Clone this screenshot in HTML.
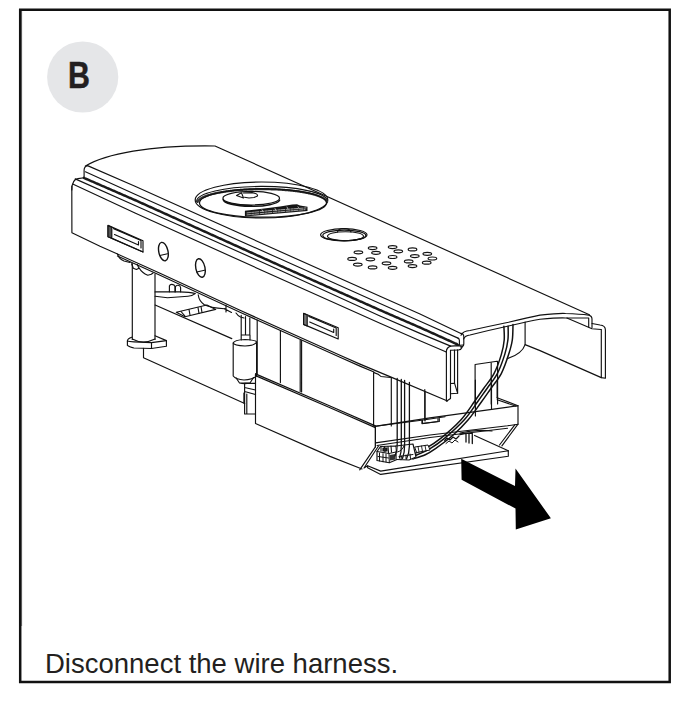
<!DOCTYPE html>
<html><head><meta charset="utf-8">
<style>
html,body{margin:0;padding:0;background:#fff;}
body{width:685px;height:702px;position:relative;overflow:hidden;font-family:"Liberation Sans",sans-serif;}
svg{position:absolute;left:0;top:0;}
.cap{position:absolute;left:45px;top:649px;font-size:27.5px;color:#231f20;white-space:nowrap;line-height:30px;}
.bl{position:absolute;left:0;top:0;font-weight:bold;font-size:36px;color:#231f20;}
</style></head><body>
<svg width="685" height="702" viewBox="0 0 685 702">
<!-- frame -->
<path d="M20.2,9.8 H669.7 V682.1 H20.2 Z" fill="none" stroke="#111" stroke-width="2.5"/>
<path d="M21.6,11 V626" stroke="#444" stroke-width="0.8"/>
<!-- B badge -->
<circle cx="82.7" cy="77" r="35.6" fill="#e5e6e8"/>
<g fill="none" stroke="#111" stroke-width="1.15" stroke-linejoin="round" stroke-linecap="round" id="ill">
<!-- cap back curve + back edge -->
<path d="M85.4,166.1 C105,154 150,145 215,146 L589.4,314.7"/>
<!-- cap left corner -->
<path d="M87.5,165.6 Q84.2,166.5 84.1,170 L84.1,177.4"/>
<!-- L1..L5 -->
<path d="M87.5,165.6 L135,186.2 L280,251.5 L380,296.3 L420,314 L460.9,333.4"/>
<path d="M85.4,171.8 L135,194.2 L280,258.8 L380,303.6 L420,321.3 L458,338.1"/>
<path d="M83.9,177.9 L135,200.1 L280,265.6 L380,310.1 L420,327.5 L457.2,344.3" stroke-width="2.5" stroke="#1a1a1a" stroke-dasharray="1.1 0.6"/>
<path d="M75.2,178.9 L135,205.5 L280,270.3 L380,316 L420,333.4 L450.7,346.1"/>
<path d="M72.7,184 L135,213.1 L280,278.5 L380,323.3 L420,340.7 L446.3,352"/>
<!-- front piece left corner and edge -->
<path d="M71.8,190 Q71.8,179.5 78,178.6 L84,177.8"/>
<path d="M71.8,186 L71.9,232.7 L100,246.2 L117.5,254.1 L160,273.3 L240,310.3 L340,355.3 L360,364.1 L390.5,376.9 L447.5,401"/>
<!-- right end of cap / front piece -->
<path d="M460.9,333.4 Q463.8,333.6 463.8,337 L463.8,344 Q463.6,346.8 461,347.3"/>
<path d="M458,338.1 Q459.4,338.6 459.4,340.5 L459.4,345.2 M457.2,344.3 L459.4,345.2 L463.5,345"/>
<path d="M446.3,352 Q446.4,347.3 450.7,346.1 L458.5,345.6 Q461.5,345.8 462,347.5 Q461,350 458.5,350 L450.5,350.3"/>
<!-- flap -->
<path d="M461,335.2 Q463,331 470,330.5 Q490,326 508.5,322.2 Q530,317 540,315.1 Q560,313 565.6,313.5 Q580,314 588.7,315.1 Q592,316 592,319 L592,327.6"/>
<path d="M463.6,339 Q465,335.5 470,335 Q490,330 508.5,326 Q530,321 540,319.2 Q560,317.5 565.6,318 L588.7,318 L588.7,327"/>
<path d="M566.9,318 L592,328.8 L601,329.5"/>
<path d="M592,323.5 L600,325 Q605.4,325.5 605.4,330 L605.4,378.2 L601.3,377.6 L601.3,329.5"/>
<path d="M601.3,377.6 L540,350.6 L525.1,344.6"/>
<path d="M525.1,322 L525.1,344.6 Q522,354 507.2,358.7"/>
<!-- wires right -->
<g stroke-width="1.5"><path d="M503.9,326.3 C503.9,328.6 504.6,335.3 504.2,340.0 C503.8,344.7 503.0,349.0 501.3,354.6 C499.6,360.2 496.9,368.0 494.0,373.6 C491.1,379.2 487.1,383.6 483.8,388.2 C480.6,392.8 478.3,396.2 474.5,401.5 C470.7,406.8 466.4,413.9 460.8,420.0 C455.2,426.1 446.6,433.6 440.7,438.4 C434.8,443.2 430.1,445.9 425.3,448.6 C420.5,451.3 414.2,453.5 412.0,454.5"/>
<path d="M508.1,326.3 C508.1,328.6 508.5,335.3 507.9,340.0 C507.4,344.7 506.4,349.0 504.7,354.6 C502.9,360.2 500.3,368.0 497.3,373.6 C494.4,379.2 490.4,383.6 487.2,388.2 C483.9,392.8 481.6,396.2 477.8,401.5 C474.0,406.8 469.7,413.9 464.1,420.0 C458.5,426.1 450.1,433.6 444.5,438.4 C438.8,443.2 435.4,445.5 430.1,448.6 C424.8,451.7 415.4,455.4 412.5,456.8"/>
<path d="M513.0,324.6 C512.9,327.2 513.0,335.0 512.3,340.0 C511.6,345.0 510.4,349.0 508.6,354.6 C506.8,360.2 504.2,368.0 501.3,373.6 C498.4,379.2 494.5,383.4 491.1,388.2 C487.7,393.0 484.9,397.2 481.0,402.5 C477.1,407.8 472.7,414.5 468.0,420.0 C463.3,425.5 458.3,430.5 452.9,435.3 C447.5,440.1 440.1,445.4 435.5,448.6 C430.9,451.8 429.1,453.0 425.3,454.7 C421.6,456.4 415.1,458.3 413.0,459.0"/></g>
<!-- front face slots & holes -->
<path d="M108,225.4 L143,240.7 L143,252 L108,236.7 Z"/>
<path d="M108,225.6 L111.8,227.2 L111.8,238.3 L108,236.7 Z" fill="#555"/>
<path d="M113.6,228.6 L141,240.5 L141,248 M114.5,234.5 L138.5,245 L138.5,241.5 M112.6,238.6 L143,252"/>
<path d="M303.6,313.3 L338.2,327.7 L338.2,339 L303.6,324.4 Z"/>
<path d="M303.6,313.5 L307.2,315 L307.2,326 L303.6,324.4 Z" fill="#777"/>
<path d="M308.8,316.4 L336.2,328 L336.2,335.5 M309.7,322 L333.7,332.5 L333.7,329"/>
<g stroke-width="1.4"><ellipse cx="163.4" cy="251.6" rx="4.6" ry="9.4" transform="rotate(-12 163.4 251.6)"/>
<ellipse cx="200.4" cy="268" rx="4.6" ry="9.4" transform="rotate(-12 200.4 268)"/></g>
<path d="M159.8,255.5 L167.5,253.8 M196.8,272 L204.5,270.2"/>
<!-- lens -->
<ellipse cx="261.5" cy="200" rx="66.3" ry="18" stroke-width="1.2"/>
<path d="M196.7,201.5 A65.3,14.8 0 0 1 327.3,201" stroke-width="1.2"/>
<path d="M197.6,202 A64.8,13.6 0 0 1 327,202" stroke="#333" stroke-width="2.2" stroke-dasharray="0.8 0.6"/>
<ellipse cx="263" cy="203" rx="63.5" ry="14.2" stroke-width="1.2"/>
<ellipse cx="251.2" cy="198.2" rx="28.3" ry="6.8" stroke-width="1.2"/>
<path d="M223.2,199.6 A28.3,6.9 0 0 0 279.6,200.2" stroke-width="1.5"/><path d="M224.5,201.5 Q235,205.5 252,205.5" stroke-width="1"/>
<path d="M236.5,195.5 L241.5,192.8 L243.5,198 Z M243.5,193 L252,192.6 Q258,193.5 257.5,196 L254,197.5 L249,198 L244.5,197.2" stroke-width="1.1"/>
<path d="M244.9,210.8 L262,208.8 L280,206.6 L292.3,204.6 L297,204.3 L300,205.5 L307.5,206.8 L307.5,210.9 L270,214.3 L244.9,216.6 Z" fill="#151515" stroke="none"/>
<path d="M247,212.9 L270,210.6 L306,207.9 M247,214.9 L270,212.7 L305,209.6" stroke="#fff" stroke-width="0.6" stroke-dasharray="3.5 1.2 2 1 4 1.5"/>
<path d="M262,209.8 L263,211.5 M275,208.5 L276,210.5 M287,207 L288,209 M298,206.8 L299,208.5" stroke="#fff" stroke-width="0.6"/>
<!-- button -->
<ellipse cx="343.8" cy="234.8" rx="23.2" ry="6.1" stroke-width="1.2"/>
<ellipse cx="344.3" cy="235.4" rx="21.5" ry="5.3"/>
<ellipse cx="345.5" cy="236.2" rx="18" ry="4.5"/>
<path d="M337.5,232 Q338,228.7 344,228.5 Q350,228.7 351,232"/>
<!-- speaker -->
<g stroke="#151515" stroke-width="1.2"><ellipse cx="372.6" cy="248.1" rx="4.3" ry="1.5"/><ellipse cx="392.6" cy="247.1" rx="4.3" ry="1.5"/><ellipse cx="412.5" cy="249.4" rx="4.3" ry="1.5"/><ellipse cx="358.4" cy="252.3" rx="4.3" ry="1.5"/><ellipse cx="376.0" cy="252.8" rx="4.3" ry="1.5"/><ellipse cx="398.3" cy="251.3" rx="4.3" ry="1.5"/><ellipse cx="427.3" cy="253.8" rx="4.3" ry="1.5"/><ellipse cx="352.1" cy="258.9" rx="4.3" ry="1.5"/><ellipse cx="370.4" cy="259.3" rx="4.3" ry="1.5"/><ellipse cx="392.6" cy="257.0" rx="4.3" ry="1.5"/><ellipse cx="414.8" cy="256.1" rx="4.3" ry="1.5"/><ellipse cx="432.4" cy="258.5" rx="4.3" ry="1.5"/><ellipse cx="357.8" cy="264.6" rx="4.3" ry="1.5"/><ellipse cx="386.5" cy="263.3" rx="4.3" ry="1.5"/><ellipse cx="408.7" cy="261.4" rx="4.3" ry="1.5"/><ellipse cx="426.7" cy="262.7" rx="4.3" ry="1.5"/><ellipse cx="372.6" cy="267.4" rx="4.3" ry="1.5"/><ellipse cx="392.6" cy="267.8" rx="4.3" ry="1.5"/><ellipse cx="412.5" cy="266.1" rx="4.3" ry="1.5"/></g>
<!-- underside double line -->
<path d="M117.5,256.1 L160,275.3 L240,312.3 L340,357.3 L360,366.1 L374,372"/>
<!-- feet under faceplate -->
<path d="M117.5,254.1 Q119,259 124,261 L130,262.5"/><path d="M131.6,263.8 L133.3,268.2 L136.4,269.5 L139,268.2 L137.3,264.6 M139,267.7 Q142,273 147.8,275.2 L151.3,274.3 L153,273"/>
<!-- post -->
<path d="M132.3,263.5 L132.3,339.5 M155,274 L155,339.5"/>
<path d="M132.3,339 Q143,345 155,339"/>
<path d="M131.8,337.2 Q127.4,338.5 127.4,341 L127.4,345.4 Q129,347 134,348 L151.5,348.5 L166.4,346.3 L166.4,340.6 L155,335.8"/>
<path d="M127.4,341 Q129,341.7 134,341.9 L151.5,342.6 L166.4,340.6 M151.5,342.6 L151.5,348.5"/>
<!-- left lower box -->
<path d="M143.5,348.3 L143.5,357.8 L244.7,403.4"/>
<path d="M155.1,305 L231.8,338.6"/>
<path d="M243.9,393 L243.9,403"/>
<!-- wing and slot under faceplate -->
<path d="M155.1,291.9 L179.2,291.9 Q190,292.2 195.3,293.6 Q192,296 188,296.2 L167.5,297.7 L155.1,296.3"/>
<path d="M198.2,294.8 Q199,301 204,304.5 Q210,308 224.5,308.7"/>
<path d="M176.3,312.3 L206.9,305 L215.7,309.4 L185,316.7 Z"/>
<path d="M181,311.5 L185,316.2 M189,309.5 L190,315 M198,307.5 L199,313.5 M201,306.5 L202,312.5" />
<path d="M169.4,291.8 L169.4,286 Q170,284.3 172,284.4 Q174.6,284.6 174.9,286.5 L174.9,291.8 M175.4,291.8 L175.4,287 Q176,285.2 178,285.3 Q180.4,285.6 180.6,287.5 L180.6,291.8"/>
<path d="M224.5,308.7 L231.5,312.4 M226,305 L226,312"/>
<path d="M236,313 Q238,316 240.5,317 L244,318"/>
<!-- cylinder -->
<path d="M233.2,343 L233.2,376 Q236,379.5 244,380 Q253,379.5 256.6,376 L256.6,342"/>
<path d="M233.2,343 Q234,340 245,339.5 Q256,340 256.6,342 Q255,345.5 245,346 Q234,345.5 233.2,343"/>
<path d="M236,377.8 L239.5,383 L250,383 L253.5,377.5 M239.5,383 Q244.5,384.5 250,383"/>
<path d="M241.2,315.4 L241.2,340 M245.5,316.5 L245.5,335 M249.8,318 L249.8,335 M241.2,335 L250,335 L250,340"/>
<!-- bracket below cylinder -->
<path d="M244.6,383.4 L244.6,414 L255.5,414 M244.6,383.4 L255.5,383.4 M244.6,387.5 L255.5,390 M244.6,391.5 L255.5,394.5 M246.8,394 L246.8,414"/>
<!-- middle housing verticals -->
<path d="M257.2,320 L257.2,373.9 M280.4,330.5 L280.4,382.6 M300.2,340 L300.2,391.4 M301.6,340.5 L301.6,392"/>
<path d="M373.6,372.6 L373.6,425.5 M391.3,377.5 L391.3,426 M425,392 L425,421"/>
<path d="M374,372.6 Q379,374 381,376.5 L390.5,377.5"/>
<!-- lower right box -->
<path d="M255.5,373.9 L330,406 L375.4,425.9 M255.5,375.6 L330,407.8 L375.4,427.6"/>
<path d="M255.5,373.9 L255.5,423.5 L330,456.4 L362,469"/>
<path d="M375.4,426.5 L375.4,446.9 M375.4,426.2 L423.3,420 L445,416.7"/>
<path d="M422,420.5 L422,423.6 L438,421.5 L438,418.6"/>
<!-- faceplate right end -->
<path d="M446.4,352 L446.4,401.2 L450.5,398.5 L450.5,350.3 M454.5,350 L454.5,383.3 M457.6,349.8 L457.6,393.2"/>
<path d="M450.5,383.5 L454.5,383.2 L457.6,393.2 L450.5,393.8"/>
<!-- box behind faceplate right (under flap) -->
<path d="M475.1,364.5 L475.1,405 M475.1,364.5 L497,361.3 M491.2,362.5 L491.2,404 M497.6,361.3 L497.6,404"/>
<!-- tray -->
<path d="M375.4,426.5 L375.4,446.9 L359.7,469.8"/>
<path d="M378.5,446 L364,468 L367.6,465.8"/>
<path d="M374.8,426.4 L430,417.9 L518,405.7 L518,424.2 L507.5,425.8 L430,435 L375.5,442.9"/>
<path d="M377,445.5 L430,437.5 L507.5,428.3"/>
<path d="M497.1,397.7 L518,405.7 M497.1,399.8 L516,406.2"/>
<path d="M518,424.2 L501.9,445.8 M514.8,424.8 L499.5,445"/>
<path d="M422.4,420.1 L422.4,423.5 L439.3,421.5 L439.3,418.6"/>
<path d="M424.8,389.6 L424.8,420 M475.4,380 L475.4,416 M491.5,380 L491.5,408.5 M497.1,380 L497.1,398"/>
<path d="M460,433 Q476,429 492,431"/>
<!-- pcb -->
<path d="M367.6,465.8 L380.7,471.1 L508.3,450.7 L508.3,456.3 L380.7,474.4 L367.6,467.8 Z"/>
<path d="M508.3,450.7 L474.6,435.4"/>
<!-- connectors -->
<path d="M377,451.5 L380.5,446.5 L396,446 L397,459.5 L389.3,462.7 L377,460.5 Z" fill="#fff"/>
<path d="M377,451.5 L389,453.5 L389.3,462.7 M389,453.5 L396,452 M379.5,453 L379.5,461 M383,453.7 L383,461.8 M386,454 L386,462 M378,456.5 L388.5,458" stroke-width="1"/>
<path d="M381,447 L381,451 M384.5,446.5 L385,452 M388,446.5 L388.5,452.5 M391,446 L391.5,452" stroke-width="1.1"/>
<path d="M383,448 L387,448 L387,451 L383,451 Z" fill="#222"/>
<path d="M389.5,455 L395.5,454 L395.8,459.5 L390,460.5 Z" fill="#333" stroke="none"/>
<path d="M396,446 L413,444 L416,457 L409,460 L397,459.5" fill="#fff"/>
<path d="M397.5,452 Q402,451 404,446 M399,456.5 L413,454.5 M401,459.8 L401.5,456 M406,459 L406,455 M410.5,458.5 L410,454" stroke-width="1"/>
<path d="M415,447 L428,445 L430,450 L417,452.5 Z" fill="#fff" stroke-width="1"/>
<path d="M418,446.5 L419,451.8 M421.5,446 L422.5,451.3 M425,445.5 L426,450.8" stroke-width="0.9"/>
<path d="M444.7,440.5 L447,438 L450,440 L453,437 L456,439 L459,436" stroke-width="1.2"/>
<path d="M446,443.5 L449,441 L452,443 L455,440 L458,442" stroke-width="1"/>
<path d="M460,434.5 L466,433.3 L472.3,433.3 L472.3,443.5 M466,433.3 L466,442 M469,433.5 L469,443" stroke-width="1.3"/>
<!-- vertical wires -->
<g stroke-width="1.3">
<path d="M397.2,378.5 L397.2,444 Q397.4,451 395,456"/>
<path d="M401.3,379.5 L401.3,445 Q401.5,452 399.5,458"/>
<path d="M404.6,380.5 L404.6,445 Q404.8,452 402.5,458.5"/>
<path d="M409.4,382.5 L409.4,446 Q409.3,453 406.5,459"/>
</g>
</g>
<!-- arrow -->
<path d="M461.2,458.8 L515,486.1 L515.5,468.5 L550.9,518.3 L515.8,529.5 L515.5,508.6 L461.6,479.7 Z" fill="#000" stroke="none"/>
</svg>
<div class="cap">Disconnect the wire harness.</div>
<div class="bl" style="left:68.2px;top:53.5px;font-size:37.5px;transform:scaleX(0.81);transform-origin:0 0;-webkit-text-stroke:0.5px #231f20;">B</div>
</body></html>
